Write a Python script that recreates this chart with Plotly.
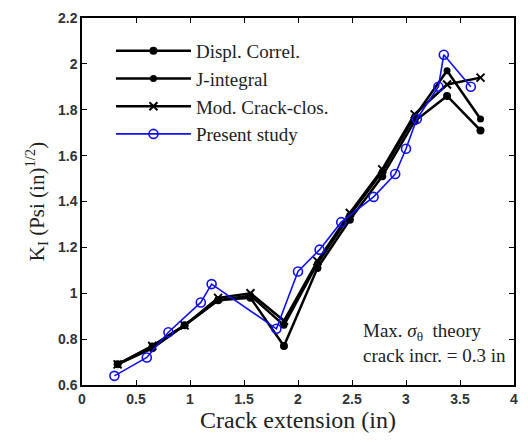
import plotly.graph_objects as go

x_black = [0.33, 0.65, 0.95, 1.26, 1.56, 1.87, 2.18, 2.48, 2.78, 3.08, 3.38, 3.69]
displ = [0.69, 0.76, 0.86, 0.97, 0.98, 0.77, 1.11, 1.32, 1.51, 1.75, 1.86, 1.71]
jint = [0.69, 0.77, 0.86, 0.97, 0.99, 0.86, 1.13, 1.34, 1.53, 1.77, 1.97, 1.76]
modcc = [0.69, 0.77, 0.86, 0.98, 1.00, 0.88, 1.14, 1.35, 1.54, 1.78, 1.91, 1.94]

x_present = [0.3, 0.6, 0.8, 1.1, 1.2, 1.8, 2.0, 2.2, 2.4, 2.7, 2.9, 3.0, 3.1, 3.3, 3.35, 3.6]
present = [0.64, 0.72, 0.83, 0.96, 1.04, 0.845, 1.095, 1.19, 1.31, 1.42, 1.52, 1.63, 1.76, 1.90, 2.04, 1.90]

x_ticks = [0, 0.5, 1, 1.5, 2, 2.5, 3, 3.5, 4]
x_ticktext = ["0", "0.5", "1", "1.5", "2", "2.5", "3", "3.5", "4"]
y_ticks = [0.6, 0.8, 1, 1.2, 1.4, 1.6, 1.8, 2, 2.2]
y_ticktext = ["0.6", "0.8", "1", "1.2", "1.4", "1.6", "1.8", "2", "2.2"]

serif = "Liberation Serif, Times New Roman, serif"

fig = go.Figure()
fig.add_trace(go.Scatter(x=x_black, y=displ, name="Displ. Correl.", mode="lines+markers",
                         legendgroup="a",
                         line=dict(color="black", width=2.5),
                         marker=dict(symbol="circle", size=8, color="black")))
fig.add_trace(go.Scatter(x=x_black, y=jint, name="J-integral", mode="lines+markers",
                         legendgroup="b",
                         line=dict(color="black", width=2.5),
                         marker=dict(symbol="circle", size=7, color="black")))
fig.add_trace(go.Scatter(x=x_black, y=modcc, name="Mod. Crack-clos.", mode="lines+markers",
                         legendgroup="c",
                         line=dict(color="black", width=2.5),
                         marker=dict(symbol="x-thin", size=8, color="black",
                                     line=dict(color="black", width=2))))
fig.add_trace(go.Scatter(x=x_present, y=present, name="Present study", mode="lines+markers",
                         legendgroup="d",
                         line=dict(color="#1010ee", width=1.6),
                         marker=dict(symbol="circle-open", size=9, color="#1010ee",
                                     line=dict(width=1.6))))

axis_common = dict(showgrid=False, zeroline=False, showline=True, linecolor="black", linewidth=1.5,
                   mirror="ticks", ticks="inside", ticklen=5, tickcolor="black", tickwidth=1,
                   tickfont=dict(family="Liberation Sans, Arial", size=14, color="#333", weight="bold"))

fig.update_layout(
    width=528, height=442,
    margin=dict(l=82, r=10, t=15, b=57),
    paper_bgcolor="white", plot_bgcolor="white",
    xaxis=dict(range=[0, 4], tickvals=x_ticks, ticktext=x_ticktext,
               title=dict(text="Crack extension (in)", font=dict(family=serif, size=24, color="#222"), standoff=4),
               **axis_common),
    yaxis=dict(range=[0.6, 2.2], tickvals=y_ticks, ticktext=y_ticktext,
               title=dict(text="K<sub>I</sub> (Psi (in)<sup>1/2</sup>)", font=dict(family=serif, size=21, color="#222"), standoff=8),
               **axis_common),
    legend=dict(x=0.067, y=0.962, xanchor="left", yanchor="top", bgcolor="rgba(0,0,0,0)",
                font=dict(family=serif, size=19, color="#222"),
                itemwidth=75, tracegroupgap=0),
    showlegend=True,
)

fig.add_annotation(x=0.986, y=0.1135, xref="paper", yref="paper", xanchor="right", yanchor="middle",
                   text="Max. <i>σ</i><sub>θ</sub>  theory<br>crack incr. = 0.3 in", align="left",
                   showarrow=False, font=dict(family=serif, size=19, color="#222"))

fig.write_html("out.html")
